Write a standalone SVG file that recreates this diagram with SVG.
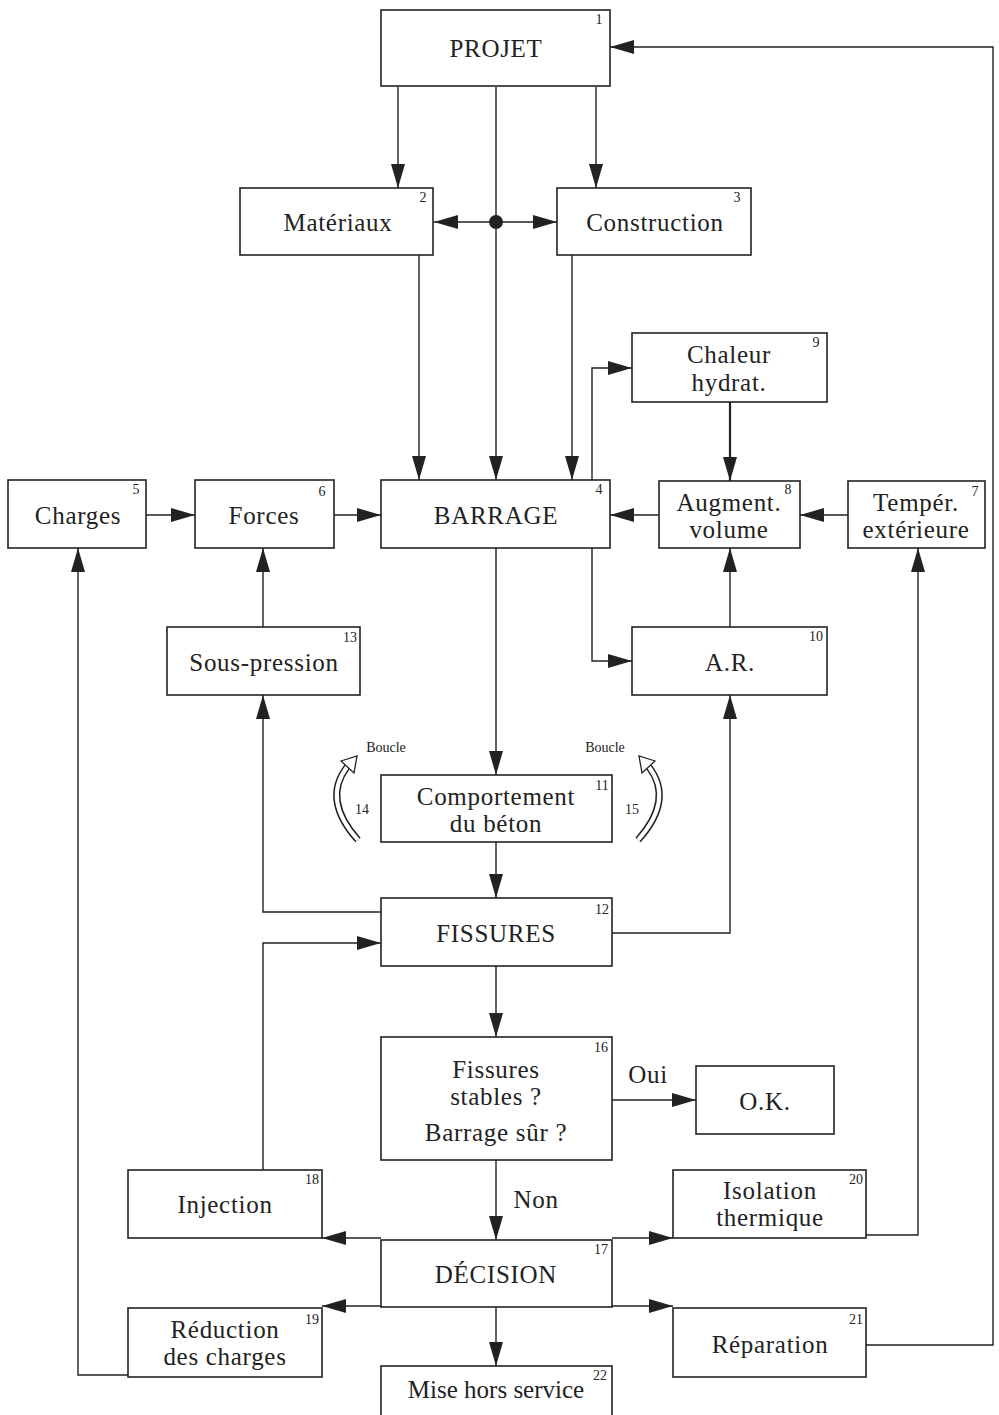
<svg xmlns="http://www.w3.org/2000/svg" width="999" height="1415" viewBox="0 0 999 1415">
<style>
.box{fill:#fff;stroke:#222;stroke-width:1.6}
.t{font-family:"Liberation Serif",serif;font-size:25px;letter-spacing:0.7px;fill:#222;text-anchor:middle}
.n{font-family:"Liberation Serif",serif;font-size:14px;fill:#222;text-anchor:middle}
.s{font-family:"Liberation Serif",serif;font-size:14px;fill:#222;text-anchor:middle}
.c{fill:none;stroke:#222;stroke-width:1.4}
</style>
<defs>
<marker id="a" markerUnits="userSpaceOnUse" markerWidth="26" markerHeight="16" refX="24" refY="8" orient="auto">
<path d="M0,1 L24,8 L0,15 z" fill="#222"/>
</marker>
</defs>
<rect width="999" height="1415" fill="#fff"/>
<g id="connectors">
<path class="c" d="M398,87 V188" marker-end="url(#a)"/>
<path class="c" d="M596,87 V188" marker-end="url(#a)"/>
<path class="c" d="M496,87 V480" marker-end="url(#a)"/>
<path class="c" d="M496,222 H434" marker-end="url(#a)"/>
<path class="c" d="M496,222 H557" marker-end="url(#a)"/>
<circle cx="496" cy="222" r="7" fill="#222"/>
<path class="c" d="M419,255 V480" marker-end="url(#a)"/>
<path class="c" d="M572,255 V480" marker-end="url(#a)"/>
<path class="c" d="M146,515 H195" marker-end="url(#a)"/>
<path class="c" d="M334,515 H381" marker-end="url(#a)"/>
<path class="c" d="M592,480 V368 H632" marker-end="url(#a)"/>
<path class="c" d="M730,402 V481" marker-end="url(#a)" style="stroke-width:2.2"/>
<path class="c" d="M659,515 H610" marker-end="url(#a)"/>
<path class="c" d="M848,515 H800" marker-end="url(#a)"/>
<path class="c" d="M592,548 V661 H632" marker-end="url(#a)"/>
<path class="c" d="M730,627 V548" marker-end="url(#a)"/>
<path class="c" d="M263,627 V548" marker-end="url(#a)"/>
<path class="c" d="M496,548 V775" marker-end="url(#a)"/>
<path class="c" d="M496,842 V898" marker-end="url(#a)"/>
<path class="c" d="M381,912 H263 V695" marker-end="url(#a)"/>
<path class="c" d="M263,1170 V943 H381" marker-end="url(#a)"/>
<path class="c" d="M612,933 H730 V695" marker-end="url(#a)"/>
<path class="c" d="M496,966 V1037" marker-end="url(#a)"/>
<path class="c" d="M612,1100 H696" marker-end="url(#a)"/>
<path class="c" d="M496,1160 V1240" marker-end="url(#a)"/>
<path class="c" d="M381,1238 H322" marker-end="url(#a)"/>
<path class="c" d="M612,1238 H673" marker-end="url(#a)"/>
<path class="c" d="M381,1306 H322" marker-end="url(#a)"/>
<path class="c" d="M612,1306 H673" marker-end="url(#a)"/>
<path class="c" d="M496,1307 V1366" marker-end="url(#a)"/>
<path class="c" d="M128,1375 H78 V548" marker-end="url(#a)"/>
<path class="c" d="M866,1235 H918 V548" marker-end="url(#a)"/>
<path class="c" d="M866,1345 H993 V47 H610" marker-end="url(#a)"/>
<path d="M358,840 Q322,800 347,767" fill="none" stroke="#222" stroke-width="7"/>
<path d="M358,840 Q322,800 347,767" fill="none" stroke="#fff" stroke-width="4"/>
<path d="M341,761 L357,756 L354,773 z" fill="#fff" stroke="#222" stroke-width="1.3"/>
<path d="M638,840 Q674,800 649,767" fill="none" stroke="#222" stroke-width="7"/>
<path d="M638,840 Q674,800 649,767" fill="none" stroke="#fff" stroke-width="4"/>
<path d="M655,761 L639,756 L642,773 z" fill="#fff" stroke="#222" stroke-width="1.3"/>
<text class="s" x="386" y="752" font-size="13">Boucle</text>
<text class="s" x="605" y="752" font-size="13">Boucle</text>
<text class="s" x="362" y="814">14</text>
<text class="s" x="632" y="814">15</text>
<text class="t" x="648" y="1083" font-size="24">Oui</text>
<text class="t" x="536" y="1208" font-size="24">Non</text>
</g>
<g id="n1"><rect class="box" x="381" y="10" width="229" height="76"/><text class="t" x="496" y="57">PROJET</text><text class="n" x="599" y="24">1</text></g>
<g id="n2"><rect class="box" x="240" y="188" width="193" height="67"/><text class="t" x="338" y="231">Matériaux</text><text class="n" x="423" y="202">2</text></g>
<g id="n3"><rect class="box" x="557" y="188" width="194" height="67"/><text class="t" x="655" y="231">Construction</text><text class="n" x="737" y="202">3</text></g>
<g id="n4"><rect class="box" x="381" y="480" width="229" height="68"/><text class="t" x="496" y="524">BARRAGE</text><text class="n" x="599" y="494">4</text></g>
<g id="n5"><rect class="box" x="8" y="480" width="138" height="68"/><text class="t" x="78" y="524">Charges</text><text class="n" x="136" y="494">5</text></g>
<g id="n6"><rect class="box" x="195" y="480" width="139" height="68"/><text class="t" x="264" y="524">Forces</text><text class="n" x="322" y="496">6</text></g>
<g id="n7"><rect class="box" x="848" y="481" width="137" height="67"/><text class="t" x="916" y="511">Tempér.</text><text class="t" x="916" y="538">extérieure</text><text class="n" x="975" y="496">7</text></g>
<g id="n8"><rect class="box" x="659" y="481" width="141" height="67"/><text class="t" x="729" y="511">Augment.</text><text class="t" x="729" y="538">volume</text><text class="n" x="788" y="494">8</text></g>
<g id="n9"><rect class="box" x="632" y="333" width="195" height="69"/><text class="t" x="729" y="363">Chaleur</text><text class="t" x="729" y="391">hydrat.</text><text class="n" x="816" y="347">9</text></g>
<g id="n10"><rect class="box" x="632" y="627" width="195" height="68"/><text class="t" x="730" y="671">A.R.</text><text class="n" x="816" y="641">10</text></g>
<g id="n13"><rect class="box" x="167" y="627" width="193" height="68"/><text class="t" x="264" y="671">Sous-pression</text><text class="n" x="350" y="642">13</text></g>
<g id="n11"><rect class="box" x="381" y="775" width="231" height="67"/><text class="t" x="496" y="805">Comportement</text><text class="t" x="496" y="832">du béton</text><text class="n" x="602" y="790">11</text></g>
<g id="n12"><rect class="box" x="381" y="898" width="231" height="68"/><text class="t" x="496" y="942">FISSURES</text><text class="n" x="602" y="914">12</text></g>
<g id="n16"><rect class="box" x="381" y="1037" width="231" height="123"/><text class="t" x="496" y="1078">Fissures</text><text class="t" x="496" y="1105">stables ?</text><text class="t" x="496" y="1141">Barrage sûr ?</text><text class="n" x="601" y="1052">16</text></g>
<g id="nok"><rect class="box" x="696" y="1066" width="138" height="68"/><text class="t" x="765" y="1110">O.K.</text></g>
<g id="n18"><rect class="box" x="128" y="1170" width="194" height="68"/><text class="t" x="225" y="1213">Injection</text><text class="n" x="312" y="1184">18</text></g>
<g id="n20"><rect class="box" x="673" y="1170" width="193" height="68"/><text class="t" x="770" y="1199">Isolation</text><text class="t" x="770" y="1226">thermique</text><text class="n" x="856" y="1184">20</text></g>
<g id="n17"><rect class="box" x="381" y="1240" width="231" height="67"/><text class="t" x="496" y="1283">DÉCISION</text><text class="n" x="601" y="1254">17</text></g>
<g id="n19"><rect class="box" x="128" y="1308" width="194" height="69"/><text class="t" x="225" y="1338">Réduction</text><text class="t" x="225" y="1365">des charges</text><text class="n" x="312" y="1324">19</text></g>
<g id="n21"><rect class="box" x="673" y="1308" width="193" height="69"/><text class="t" x="770" y="1353">Réparation</text><text class="n" x="856" y="1324">21</text></g>
<g id="n22"><rect class="box" x="381" y="1366" width="231" height="60"/><text class="t" x="496" y="1398" style="letter-spacing:0">Mise hors service</text><text class="n" x="600" y="1380">22</text></g>
</svg>
